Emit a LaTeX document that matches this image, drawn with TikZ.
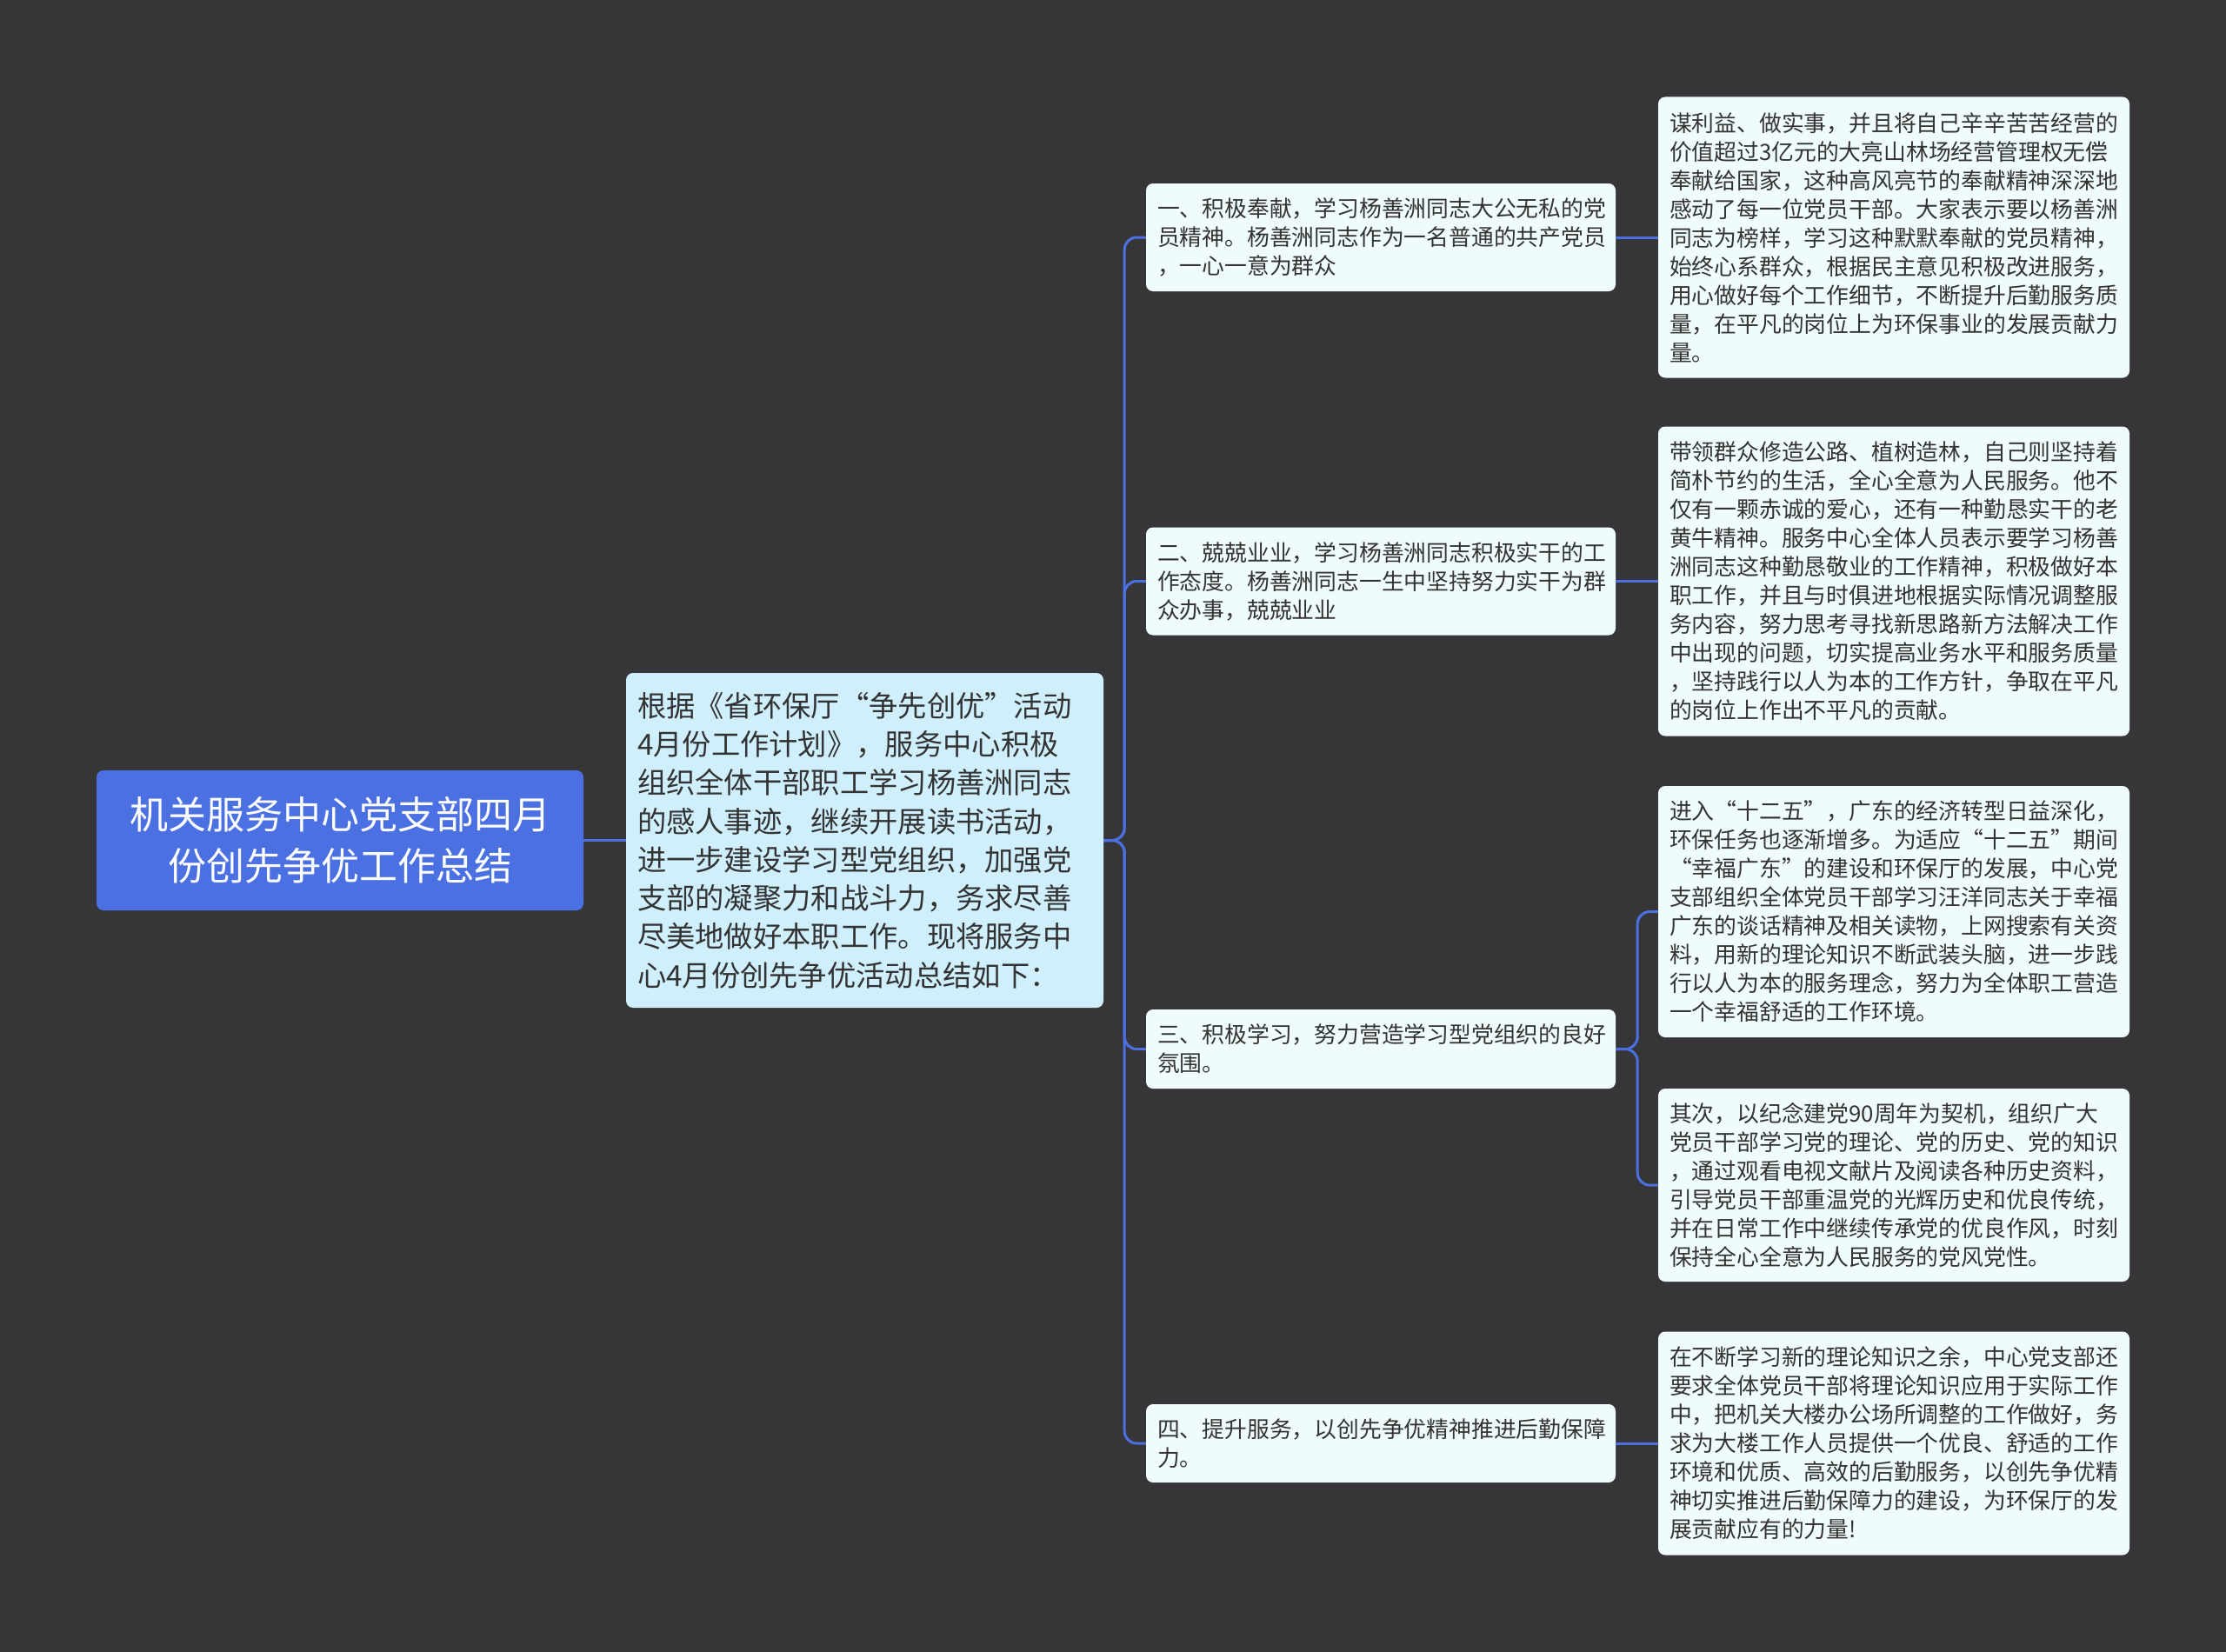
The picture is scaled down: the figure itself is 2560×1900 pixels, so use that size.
\documentclass[tikz,border=0pt]{standalone}
\usepackage{fontspec}
\setmainfont{Noto Sans CJK SC}
\definecolor{bgdark}{HTML}{363638}
\definecolor{rootblue}{HTML}{4B70E2}
\definecolor{sumblue}{HTML}{CFEFFD}
\definecolor{itemfill}{HTML}{F0FBFC}
\definecolor{linkblue}{HTML}{4D70E0}
\definecolor{txtgray}{HTML}{333333}
\tikzset{
  box/.style={rounded corners=8pt, inner xsep=13pt, inner ysep=0pt, align=left, text=txtgray},
  rootbox/.style={box, fill=rootblue, text=white, align=center, text width=520pt,
    minimum width=560pt, minimum height=161pt, font=\fontsize{44}{59}\selectfont},
  sumbox/.style={box, fill=sumblue, text width=523pt, minimum width=549pt,
    minimum height=385pt, font=\fontsize{33.3}{44.3}\selectfont},
  itembox/.style={box, fill=itemfill, text width=514pt, minimum width=540pt,
    font=\fontsize{25.8}{33}\selectfont},
  leafbox/.style={box, fill=itemfill, text width=516pt, minimum width=542pt,
    font=\fontsize{25.8}{33}\selectfont},
  link/.style={draw=linkblue, line width=3pt, rounded corners=14pt}
}
\begin{document}
\begin{tikzpicture}[x=1pt, y=-1pt]
    \fill[bgdark] (0,0) rectangle (2560,1900);
    \useasboundingbox (0,0) rectangle (2560,1900);
    % 中心主题
    \node[rootbox] (root) at (391,966.5) {机关服务中心党支部四月\\份创先争优工作总结};
    % 总述
    \node[sumbox] (sum) at (994.5,966.5) {根据《省环保厅“争先创优”活动\\4月份工作计划》，服务中心积极\\组织全体干部职工学习杨善洲同志\\的感人事迹，继续开展读书活动，\\进一步建设学习型党组织，加强党\\支部的凝聚力和战斗力，务求尽善\\尽美地做好本职工作。现将服务中\\心4月份创先争优活动总结如下：};
    % 四个分项
    \node[itembox, minimum height=124pt] (b1) at (1588,273) {一、积极奉献，学习杨善洲同志大公无私的党\\员精神。杨善洲同志作为一名普通的共产党员\\，一心一意为群众};
    \node[itembox, minimum height=124pt] (b2) at (1588,668.5) {二、兢兢业业，学习杨善洲同志积极实干的工\\作态度。杨善洲同志一生中坚持努力实干为群\\众办事，兢兢业业};
    \node[itembox, minimum height=91pt] (b3) at (1588,1206.5) {三、积极学习，努力营造学习型党组织的良好\\氛围。};
    \node[itembox, minimum height=90pt] (b4) at (1588,1660) {四、提升服务，以创先争优精神推进后勤保障\\力。};
    % 细节
    \node[leafbox, minimum height=323pt] (l1) at (2178,273) {谋利益、做实事，并且将自己辛辛苦苦经营的\\价值超过3亿元的大亮山林场经营管理权无偿\\奉献给国家，这种高风亮节的奉献精神深深地\\感动了每一位党员干部。大家表示要以杨善洲\\同志为榜样，学习这种默默奉献的党员精神，\\始终心系群众，根据民主意见积极改进服务，\\用心做好每个工作细节，不断提升后勤服务质\\量，在平凡的岗位上为环保事业的发展贡献力\\量。};
    \node[leafbox, minimum height=356pt] (l2) at (2178,668.5) {带领群众修造公路、植树造林，自己则坚持着\\简朴节约的生活，全心全意为人民服务。他不\\仅有一颗赤诚的爱心，还有一种勤恳实干的老\\黄牛精神。服务中心全体人员表示要学习杨善\\洲同志这种勤恳敬业的工作精神，积极做好本\\职工作，并且与时俱进地根据实际情况调整服\\务内容，努力思考寻找新思路新方法解决工作\\中出现的问题，切实提高业务水平和服务质量\\，坚持践行以人为本的工作方针，争取在平凡\\的岗位上作出不平凡的贡献。};
    \node[leafbox, minimum height=289pt] (l3a) at (2178,1048.5) {进入“十二五”，广东的经济转型日益深化，\\环保任务也逐渐增多。为适应“十二五”期间\\“幸福广东”的建设和环保厅的发展，中心党\\支部组织全体党员干部学习汪洋同志关于幸福\\广东的谈话精神及相关读物，上网搜索有关资\\料，用新的理论知识不断武装头脑，进一步践\\行以人为本的服务理念，努力为全体职工营造\\一个幸福舒适的工作环境。};
    \node[leafbox, minimum height=222pt] (l3b) at (2178,1363) {其次，以纪念建党90周年为契机，组织广大\\党员干部学习党的理论、党的历史、党的知识\\，通过观看电视文献片及阅读各种历史资料，\\引导党员干部重温党的光辉历史和优良传统，\\并在日常工作中继续传承党的优良作风，时刻\\保持全心全意为人民服务的党风党性。};
    \node[leafbox, minimum height=257pt] (l4) at (2178,1660) {在不断学习新的理论知识之余，中心党支部还\\要求全体党员干部将理论知识应用于实际工作\\中，把机关大楼办公场所调整的工作做好，务\\求为大楼工作人员提供一个优良、舒适的工作\\环境和优质、高效的后勤服务，以创先争优精\\神切实推进后勤保障力的建设，为环保厅的发\\展贡献应有的力量!};
    % 连线
    \draw[link] (root.east) -- (sum.west);
    \foreach \b in {b1,b2,b3,b4} {
        \draw[link] (sum.east) -- ++(24,0) |- (\b.west);
    }
    \draw[link] (b1.east) -- (l1.west);
    \draw[link] (b2.east) -- (l2.west);
    \draw[link] (b3.east) -- ++(25,0) |- (l3a.west);
    \draw[link] (b3.east) -- ++(25,0) |- (l3b.west);
    \draw[link] (b4.east) -- (l4.west);
\end{tikzpicture}
\end{document}
